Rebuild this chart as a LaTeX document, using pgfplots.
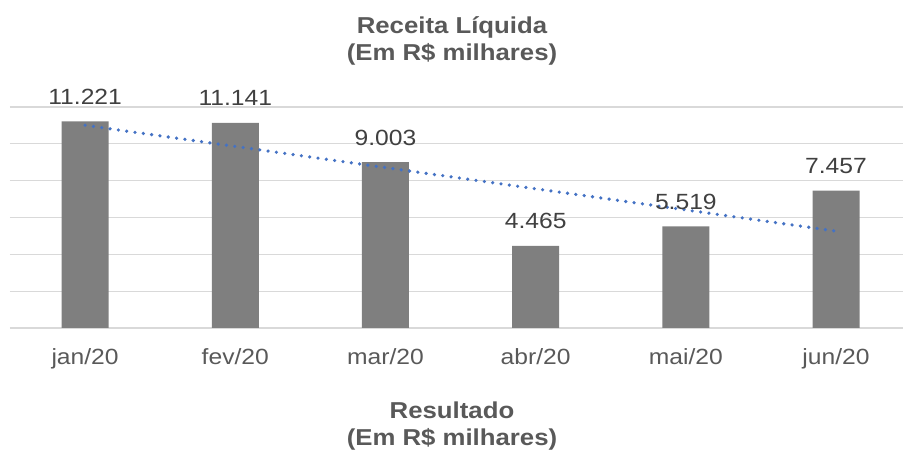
\documentclass[border=0pt]{standalone}
\usepackage{pgfplots}
\pgfplotsset{compat=1.18}
\usepackage{fontspec}
\setmainfont{Liberation Sans}
\definecolor{barc}{HTML}{7F7F7F}
\definecolor{gridc}{HTML}{D9D9D9}
\definecolor{txtc}{HTML}{595959}
\definecolor{lblc}{HTML}{404040}
\definecolor{trendc}{HTML}{4472C4}
\begin{document}
\begin{tikzpicture}
\useasboundingbox (0,0) rectangle (903pt,458pt);
\begin{axis}[
  at={(10pt,130pt)}, anchor=south west,
  scale only axis, width=893pt, height=221pt,
  xmin=-0.5, xmax=5.446, ymin=0, ymax=12000,
  axis line style={draw=none},
  ytick={0,2000,4000,6000,8000,10000,12000},
  yticklabels={},
  scaled y ticks=false,
  ymajorgrids,
  grid style={draw=gridc, line width=1.3pt},
  major tick length=0pt,
  tick style={draw=none},
  xtick={0,1,2,3,4,5},
  xticklabels={jan/20,fev/20,mar/20,abr/20,mai/20,jun/20},
  xticklabel style={anchor=base, yshift=-37pt, font=\fontsize{22}{26}\selectfont, text=txtc, xscale=1.12},
  /pgf/number format/1000 sep={.},
  /pgf/number format/assume math mode=true,
  clip=false,
]
\addplot[ybar, bar width=47pt, fill=barc, draw=none,
  nodes near coords,
  every node near coord/.append style={anchor=base, yshift=17pt, font=\fontsize{22}{26}\selectfont, text=lblc, xscale=1.12}]
  coordinates {(0,11221) (1,11141) (2,9003) (3,4465) (4,5519) (5,7457)};
\addplot[trendc, line width=3.6pt, line cap=round, dash pattern=on 0pt off 8.4pt, mark=none]
  coordinates {(0,11007.5) (5,5261.2)};
\end{axis}
\node[align=center, text=txtc, font=\bfseries\fontsize{23}{27}\selectfont, xscale=1.12] at (452pt,417pt) {Receita Líquida\\(Em R\$ milhares)};
\node[align=center, text=txtc, font=\bfseries\fontsize{23}{27}\selectfont, xscale=1.12] at (452pt,32pt) {Resultado\\(Em R\$ milhares)};
\end{tikzpicture}
\end{document}
